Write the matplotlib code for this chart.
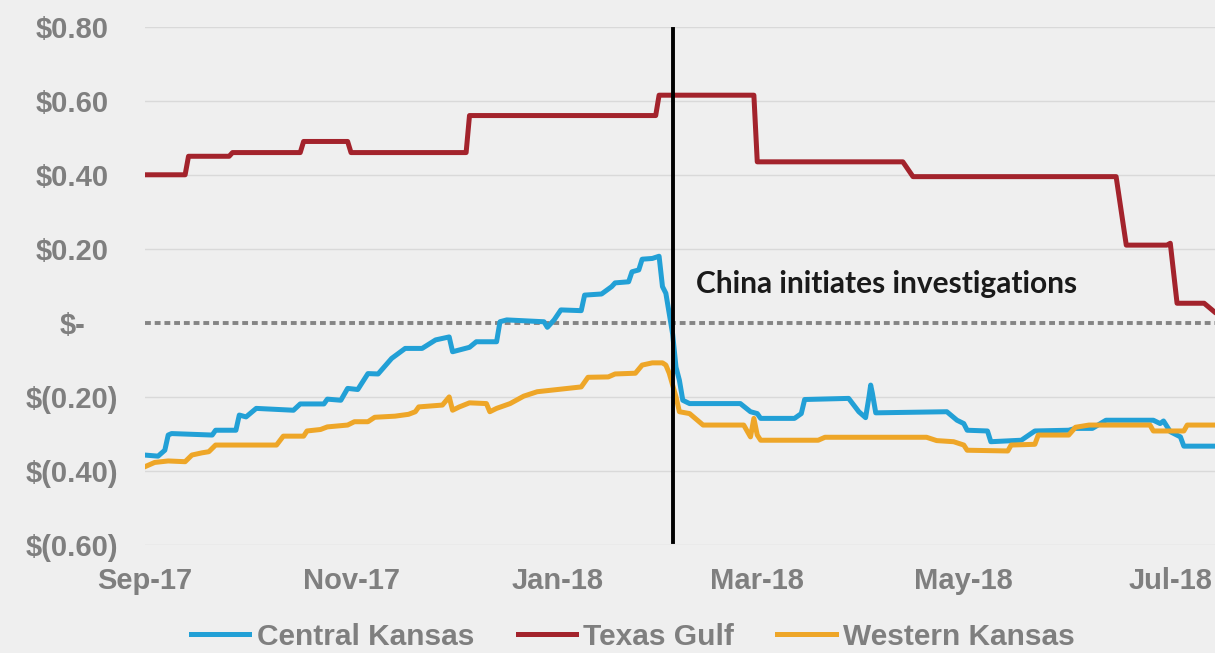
import pandas as pd
import matplotlib
matplotlib.use("Agg")
import matplotlib.pyplot as plt
import matplotlib.dates as mdates

# ----- DATA -----
central_dates = [
    "2017-09-01", "2017-09-05", "2017-09-07", "2017-09-08", "2017-09-09", "2017-09-21",
    "2017-09-22", "2017-09-28", "2017-09-29", "2017-10-01", "2017-10-04", "2017-10-15",
    "2017-10-17", "2017-10-24", "2017-10-25", "2017-10-29", "2017-10-31", "2017-11-03",
    "2017-11-06", "2017-11-09", "2017-11-13", "2017-11-17", "2017-11-22", "2017-11-26",
    "2017-11-30", "2017-12-01", "2017-12-06", "2017-12-08", "2017-12-14", "2017-12-15",
    "2017-12-17", "2017-12-28", "2017-12-29", "2017-12-31", "2018-01-02", "2018-01-08",
    "2018-01-09", "2018-01-14", "2018-01-17", "2018-01-18", "2018-01-22", "2018-01-23",
    "2018-01-25", "2018-01-26", "2018-01-29", "2018-01-31", "2018-02-01", "2018-02-02",
    "2018-02-04", "2018-02-05", "2018-02-06", "2018-02-07", "2018-02-09", "2018-02-24",
    "2018-02-27", "2018-03-01", "2018-03-02", "2018-03-12", "2018-03-14", "2018-03-15",
    "2018-03-28", "2018-03-31", "2018-04-02", "2018-04-03", "2018-04-03 12:00", "2018-04-04",
    "2018-04-05", "2018-04-26", "2018-04-29", "2018-05-01", "2018-05-02", "2018-05-08",
    "2018-05-09", "2018-05-18", "2018-05-22", "2018-06-01", "2018-06-03", "2018-06-08",
    "2018-06-12", "2018-06-26", "2018-06-28", "2018-06-29", "2018-07-01", "2018-07-04",
    "2018-07-05", "2018-07-14",
]
central_vals = [
    -0.357, -0.36, -0.344, -0.303, -0.299, -0.303,
    -0.29, -0.29, -0.249, -0.254, -0.231, -0.236,
    -0.219, -0.219, -0.206, -0.209, -0.177, -0.18,
    -0.137, -0.138, -0.096, -0.069, -0.069, -0.046,
    -0.038, -0.078, -0.066, -0.051, -0.051, 0.003,
    0.008, 0.003, -0.012, 0.008, 0.035, 0.033,
    0.075, 0.078, 0.098, 0.108, 0.111, 0.138,
    0.143, 0.172, 0.174, 0.18, 0.098, 0.08,
    -0.03, -0.12, -0.155, -0.209, -0.218, -0.218,
    -0.24, -0.245, -0.258, -0.258, -0.245, -0.207,
    -0.204, -0.24, -0.256, -0.2, -0.168, -0.19,
    -0.243, -0.24, -0.263, -0.272, -0.29, -0.292,
    -0.321, -0.317, -0.292, -0.29, -0.285, -0.285,
    -0.263, -0.263, -0.272, -0.265, -0.294, -0.308,
    -0.333, -0.333,
]

texas_dates = [
    "2017-09-01", "2017-09-13", "2017-09-14", "2017-09-26", "2017-09-27", "2017-10-17",
    "2017-10-18", "2017-10-31", "2017-11-01", "2017-12-05", "2017-12-06", "2018-01-30",
    "2018-01-31", "2018-02-28", "2018-03-01", "2018-04-13", "2018-04-16", "2018-06-15",
    "2018-06-18", "2018-06-30", "2018-07-01", "2018-07-03", "2018-07-11", "2018-07-14",
]
texas_vals = [
    0.40, 0.40, 0.45, 0.45, 0.46, 0.46,
    0.49, 0.49, 0.46, 0.46, 0.56, 0.56,
    0.615, 0.615, 0.435, 0.435, 0.395, 0.395,
    0.21, 0.21, 0.215, 0.053, 0.053, 0.03,
]

western_dates = [
    "2017-09-01", "2017-09-04", "2017-09-08", "2017-09-13", "2017-09-15", "2017-09-18",
    "2017-09-20", "2017-09-22", "2017-10-10", "2017-10-12", "2017-10-18", "2017-10-19",
    "2017-10-23", "2017-10-25", "2017-10-31", "2017-11-02", "2017-11-06", "2017-11-08",
    "2017-11-14", "2017-11-18", "2017-11-20", "2017-11-21", "2017-11-28", "2017-11-30",
    "2017-12-01", "2017-12-03", "2017-12-06", "2017-12-11", "2017-12-12", "2017-12-14",
    "2017-12-18", "2017-12-22", "2017-12-26", "2018-01-01", "2018-01-08", "2018-01-10",
    "2018-01-16", "2018-01-18", "2018-01-24", "2018-01-26", "2018-01-29", "2018-02-01",
    "2018-02-02", "2018-02-03", "2018-02-05", "2018-02-06", "2018-02-09", "2018-02-13",
    "2018-02-25", "2018-02-27", "2018-02-28", "2018-03-01", "2018-03-02", "2018-03-19",
    "2018-03-21", "2018-04-20", "2018-04-23", "2018-04-28", "2018-05-01", "2018-05-02",
    "2018-05-14", "2018-05-15", "2018-05-22", "2018-05-23", "2018-06-01", "2018-06-03",
    "2018-06-07", "2018-06-25", "2018-06-26", "2018-07-05", "2018-07-06", "2018-07-14",
]
western_vals = [
    -0.389, -0.377, -0.373, -0.375, -0.357, -0.351,
    -0.348, -0.33, -0.33, -0.306, -0.306, -0.292,
    -0.288, -0.281, -0.276, -0.267, -0.267, -0.255,
    -0.252, -0.247, -0.24, -0.227, -0.222, -0.2,
    -0.236, -0.227, -0.216, -0.218, -0.24, -0.231,
    -0.218, -0.198, -0.186, -0.18, -0.173, -0.147,
    -0.146, -0.138, -0.136, -0.114, -0.108, -0.108,
    -0.114, -0.136, -0.2, -0.24, -0.245, -0.276,
    -0.276, -0.308, -0.258, -0.303, -0.317, -0.317,
    -0.309, -0.309, -0.318, -0.321, -0.33, -0.344,
    -0.346, -0.33, -0.328, -0.303, -0.303, -0.282,
    -0.276, -0.276, -0.292, -0.292, -0.276, -0.276,
]

y_ticks = [-0.6, -0.4, -0.2, 0.0, 0.2, 0.4, 0.6, 0.8]
y_labels = ["$(0.60)", "$(0.40)", "$(0.20)", "$-", "$0.20", "$0.40", "$0.60", "$0.80"]
x_ticks = ["2017-09-01", "2017-11-01", "2018-01-01", "2018-03-01", "2018-05-01", "2018-07-01"]
x_range = ["2017-09-01", "2018-07-14 05:00"]

event_date = "2018-02-04"
event_span = [-0.592, 0.795]
event_text = "China initiates investigations"
event_text_pos = ("2018-02-11", 0.105)

# ----- STYLE -----
BG = "#efefef"
GRID = "#d9d9d9"
TICK = "#7f7f7f"
C_BLUE = "#22a0d6"
C_RED = "#a3232c"
C_ORANGE = "#eea628"
LW = 3.6

def to_dt(lst):
    return pd.to_datetime(lst, format="ISO8601")

fig = plt.figure(figsize=(12.15, 6.53), dpi=100, facecolor=BG)
ax = fig.add_axes([144.5 / 1215, 1 - 545 / 653, 1 - 144.5 / 1215, (545 - 26.7) / 653])
ax.set_facecolor(BG)

# gridlines (zero line is dotted)
for v in y_ticks:
    if v == 0:
        ax.axhline(v, color="#858585", lw=2.8, ls=(0, (1.5, 1.0)), dash_capstyle="butt", zorder=1)
    else:
        ax.axhline(v, color=GRID, lw=1.0, zorder=1)

ax.plot(to_dt(central_dates), central_vals, color=C_BLUE, lw=LW, label="Central Kansas", zorder=3)
ax.plot(to_dt(texas_dates), texas_vals, color=C_RED, lw=LW, label="Texas Gulf", zorder=3)
ax.plot(to_dt(western_dates), western_vals, color=C_ORANGE, lw=LW, label="Western Kansas", zorder=4)

ev = pd.Timestamp(event_date)
ax.plot([ev, ev], event_span, color="black", lw=2.8, zorder=5)
ax.text(pd.Timestamp(event_text_pos[0]), event_text_pos[1], event_text,
        family="Lato", fontweight="bold", fontsize=21.5, color="#1a1a1a",
        ha="left", va="center", zorder=6)

ax.set_ylim(-0.6, 0.8)
ax.set_xlim(to_dt(x_range))
ax.set_yticks(y_ticks)
ax.set_yticklabels(y_labels)
ax.set_xticks(to_dt(x_ticks))
ax.xaxis.set_major_formatter(mdates.DateFormatter("%b-%y"))

for s in ax.spines.values():
    s.set_visible(False)
ax.tick_params(axis="both", length=0, colors=TICK, labelsize=21)
ax.tick_params(axis="y", pad=52)
ax.tick_params(axis="x", pad=16)
for lab in ax.get_yticklabels() + ax.get_xticklabels():
    lab.set_fontweight("bold")
    lab.set_family("Liberation Sans")
for lab in ax.get_yticklabels():
    lab.set_ha("center")

leg = fig.legend(loc="center", bbox_to_anchor=(0.521, 0.025), ncol=3, frameon=False,
                 handlelength=1.95, handletextpad=0.25, columnspacing=1.45,
                 prop={"family": "Liberation Sans", "weight": "bold", "size": 21.5})
for t in leg.get_texts():
    t.set_color(TICK)
for h in leg.get_lines():
    h.set_linewidth(LW)

fig.savefig("out.png", dpi=100, facecolor=BG)
